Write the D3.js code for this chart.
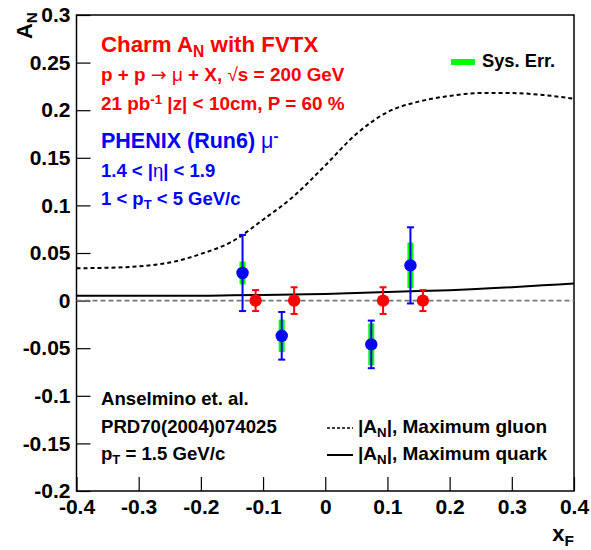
<!DOCTYPE html>
<html>
<head>
<meta charset="utf-8">
<script src="https://cdn.jsdelivr.net/npm/d3@7"></script>
<style>
  body { margin: 0; background: #fff; }
  svg text { font-family: "Liberation Sans", Arial, sans-serif; font-weight: bold; }
</style>
</head>
<body>
<svg id="chart" width="591" height="550"></svg>
<script>
// open (red) points, projected FVTX sensitivity
var redX = [-0.112, -0.05, 0.093, 0.157];
var redY = [0, 0, 0, 0];
var redErr = [0.011, 0.014, 0.014, 0.011];

// PHENIX Run6 mu- points
var blueX = [-0.133, -0.07, 0.074, 0.137];
var blueY = [0.029, -0.037, -0.046, 0.037];
var blueStat = [0.040, 0.025, 0.025, 0.040];
var blueSys = [0.012, 0.017, 0.022, 0.024];

// Anselmino et al. curves
var curveX = [-0.40, -0.35, -0.30, -0.25, -0.20, -0.15, -0.10, -0.05, 0.00, 0.05, 0.10, 0.15, 0.20, 0.25, 0.30, 0.35, 0.40];
var gluonY = [0.034, 0.0345, 0.036, 0.040, 0.049, 0.062, 0.085, 0.110, 0.142, 0.175, 0.198, 0.209, 0.215, 0.218, 0.218, 0.216, 0.212];
var quarkY = [0.005, 0.005, 0.005, 0.005, 0.005, 0.0055, 0.006, 0.0065, 0.007, 0.008, 0.009, 0.010, 0.011, 0.0125, 0.014, 0.016, 0.018];

// axis ticks
var xMajor = [-0.4, -0.3, -0.2, -0.1, 0, 0.1, 0.2, 0.3, 0.4];
var yMajor = [-0.2, -0.15, -0.1, -0.05, 0, 0.05, 0.1, 0.15, 0.2, 0.25, 0.3];
var xMinor = d3.range(-40, 41, 2).map(function(d){ return d / 100; });
var yMinor = d3.range(-20, 31, 1).map(function(d){ return d / 100; });

var svg = d3.select("#chart");

// frame edges (plotTop, since "top" is taken by window.top)
var plotLeft = 76.5, plotRight = 574, plotTop = 15, plotBottom = 491;

var x = d3.scaleLinear().domain([-0.4, 0.4]).range([plotLeft, plotRight]);
var y = d3.scaleLinear().domain([-0.2, 0.3]).range([plotBottom, plotTop]);

// plain hyphen minus like ROOT
function fmt(d){
    return String(+d.toFixed(2));
}

//axes, ticks pointing inside the frame
var gx = svg.append("g").attr("transform", "translate(0," + plotBottom + ")");
gx.call(d3.axisBottom(x).tickValues(xMinor).tickSize(-6).tickFormat(""));
gx.call(d3.axisBottom(x).tickValues(xMajor).tickSize(-14).tickPadding(8).tickFormat(fmt));

var gy = svg.append("g").attr("transform", "translate(" + plotLeft + ",0)");
gy.call(d3.axisLeft(y).tickValues(yMinor).tickSize(-7).tickFormat(""));
gy.call(d3.axisLeft(y).tickValues(yMajor).tickSize(-14).tickPadding(6).tickFormat(fmt));

svg.selectAll(".domain").remove();
svg.selectAll(".tick line").attr("stroke", "#000").attr("stroke-width", 1.2);
svg.selectAll(".tick text")
    .style("font-size", "21px")
    .style("font-family", "'Liberation Sans', Arial, sans-serif")
    .style("font-weight", "bold")
    .attr("fill", "#000");

// frame
svg.append("rect")
    .attr("x", plotLeft).attr("y", plotTop)
    .attr("width", plotRight - plotLeft).attr("height", plotBottom - plotTop)
    .attr("fill", "none").attr("stroke", "#000").attr("stroke-width", 1.5);

// zero line
svg.append("line")
    .attr("x1", x(-0.4)).attr("x2", x(0.4))
    .attr("y1", y(0)).attr("y2", y(0))
    .attr("stroke", "#777").attr("stroke-width", 1.6)
    .attr("stroke-dasharray", "5,3");

var line = d3.line()
    .x(function(d){ return x(d[0]); })
    .y(function(d){ return y(d[1]); })
    .curve(d3.curveMonotoneX);

svg.append("path")
    .attr("d", line(d3.zip(curveX, gluonY)))
    .attr("fill", "none").attr("stroke", "#000").attr("stroke-width", 2)
    .attr("stroke-dasharray", "4,3");

svg.append("path")
    .attr("d", line(d3.zip(curveX, quarkY)))
    .attr("fill", "none").attr("stroke", "#000").attr("stroke-width", 2);

// red points with error bars
redX.forEach(function(xv, i){
    var g = svg.append("g");
    g.append("line")
        .attr("x1", x(xv)).attr("x2", x(xv))
        .attr("y1", y(redY[i] - redErr[i])).attr("y2", y(redY[i] + redErr[i]))
        .attr("stroke", "#f00").attr("stroke-width", 2);
    [-1, 1].forEach(function(s){
        g.append("line")
            .attr("x1", x(xv) - 3.5).attr("x2", x(xv) + 3.5)
            .attr("y1", y(redY[i] + s * redErr[i])).attr("y2", y(redY[i] + s * redErr[i]))
            .attr("stroke", "#f00").attr("stroke-width", 2);
    });
    g.append("circle")
        .attr("cx", x(xv)).attr("cy", y(redY[i])).attr("r", 6.2)
        .attr("fill", "#f00");
});

// blue points: green sys band, blue stat bars
blueX.forEach(function(xv, i){
    var g = svg.append("g");
    g.append("line")
        .attr("x1", x(xv)).attr("x2", x(xv))
        .attr("y1", y(blueY[i] - blueSys[i])).attr("y2", y(blueY[i] + blueSys[i]))
        .attr("stroke", "#0f0").attr("stroke-width", 6);
    g.append("line")
        .attr("x1", x(xv)).attr("x2", x(xv))
        .attr("y1", y(blueY[i] - blueStat[i])).attr("y2", y(blueY[i] + blueStat[i]))
        .attr("stroke", "#00f").attr("stroke-width", 2);
    [-1, 1].forEach(function(s){
        g.append("line")
            .attr("x1", x(xv) - 3.5).attr("x2", x(xv) + 3.5)
            .attr("y1", y(blueY[i] + s * blueStat[i])).attr("y2", y(blueY[i] + s * blueStat[i]))
            .attr("stroke", "#00f").attr("stroke-width", 2);
    });
    g.append("circle")
        .attr("cx", x(xv)).attr("cy", y(blueY[i])).attr("r", 6.2)
        .attr("fill", "#00f");
});

//text helper: parts are [string, options]
function label(px, py, size, color, parts){
    var t = svg.append("text")
        .attr("x", px).attr("y", py)
        .attr("fill", color)
        .style("font-size", size + "px");
    parts.forEach(function(p){
        var o = p[1] || {};
        var ts = t.append("tspan").text(p[0]);
        if (o.sub) ts.attr("baseline-shift", "-30%").style("font-size", (size * 0.7) + "px");
        if (o.sup) ts.attr("baseline-shift", "45%").style("font-size", (size * 0.7) + "px");
        if (o.normal) ts.style("font-weight", "normal");
        if (o.sym) ts.style("font-family", "'DejaVu Sans', sans-serif").style("font-weight", "normal");
    });
    return t;
}

var red = "#f00", blue = "#00f";
label(101, 52, 22.3, red, [["Charm A"], ["N", {sub: true}], [" with FVTX"]]);
label(101, 81, 18.9, red, [["p + p "], ["\u2192", {sym: true}], [" "], ["\u03bc", {normal: true}], [" + X, "], ["\u221a", {normal: true}], ["s = 200 GeV"]]);
label(101, 110, 18.9, red, [["21 pb"], ["-1", {sup: true}], [" |z| < 10cm, P = 60 %"]]);
label(101, 148, 21.5, blue, [["PHENIX (Run6) "], ["\u03bc", {normal: true}], ["-", {sup: true}]]);
label(101, 177, 18.5, blue, [["1.4 < |"], ["\u03b7", {normal: true}], ["| < 1.9"]]);
label(101, 205, 18.5, blue, [["1 < p"], ["T", {sub: true}], [" < 5 GeV/c"]]);

label(101, 405, 18.6, "#000", [["Anselmino et. al."]]);
label(101, 433, 18.6, "#000", [["PRD70(2004)074025"]]);
label(101, 460, 18.6, "#000", [["p"], ["T", {sub: true}], [" = 1.5 GeV/c"]]);

// legend
svg.append("line")
    .attr("x1", 451).attr("x2", 475).attr("y1", 62).attr("y2", 62)
    .attr("stroke", "#0f0").attr("stroke-width", 6);
label(482, 67, 18.3, "#000", [["Sys. Err."]]);

svg.append("line")
    .attr("x1", 327).attr("x2", 353).attr("y1", 428).attr("y2", 428)
    .attr("stroke", "#000").attr("stroke-width", 1.5).attr("stroke-dasharray", "3,2");
label(358, 433, 19, "#000", [["|A"], ["N", {sub: true}], ["|, Maximum gluon"]]);

svg.append("line")
    .attr("x1", 327).attr("x2", 353).attr("y1", 455).attr("y2", 455)
    .attr("stroke", "#000").attr("stroke-width", 2);
label(358, 460, 19, "#000", [["|A"], ["N", {sub: true}], ["|, Maximum quark"]]);

// axis titles
label(574, 541, 22, "#000", [["x"], ["F", {sub: true}]]).attr("text-anchor", "end");
label(0, 0, 22, "#000", [["A"], ["N", {sub: true}]])
    .attr("text-anchor", "end")
    .attr("transform", "translate(32,12) rotate(-90)");
</script>
</body>
</html>
